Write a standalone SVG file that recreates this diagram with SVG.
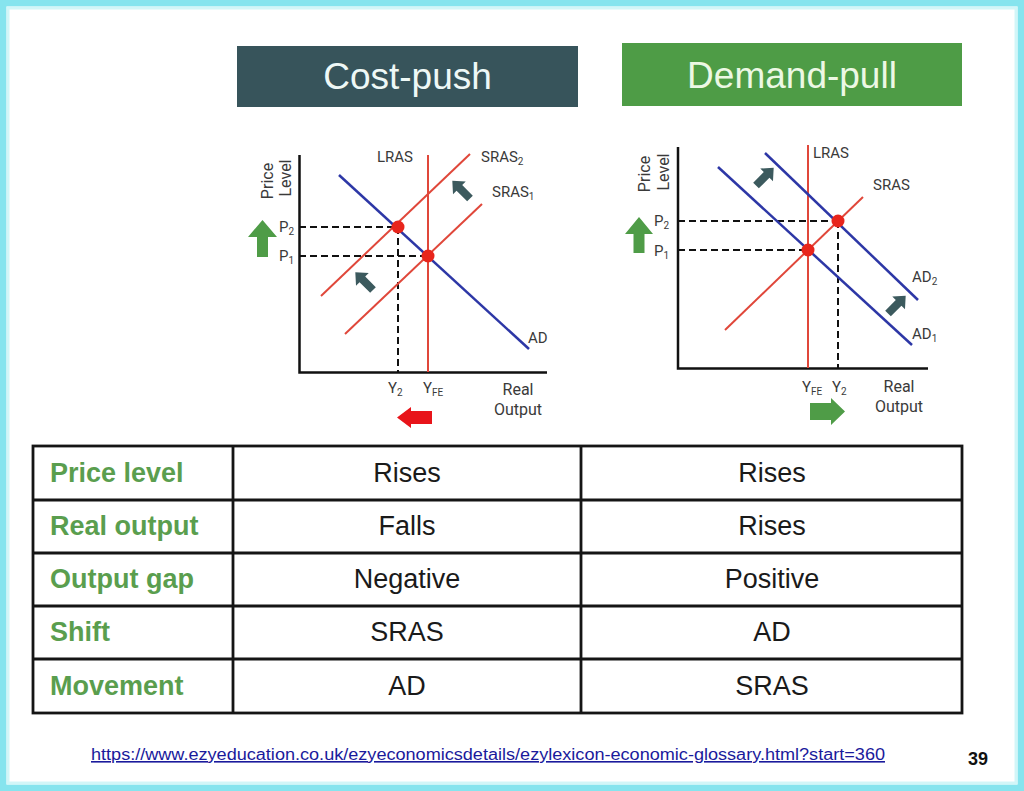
<svg xmlns="http://www.w3.org/2000/svg" width="1024" height="791" viewBox="0 0 1024 791">
<defs>
<style>
.lbl{font-family:Roboto,"Liberation Sans",sans-serif;font-size:15px;fill:#3a3a3a}
.sub{font-size:10px}
.ax{stroke:#111;stroke-width:2.5;fill:none}
.dash{stroke:#111;stroke-width:2;stroke-dasharray:7 4;fill:none}
.red{stroke:#e0473a;stroke-width:2;fill:none}
.blue{stroke:#2d37a6;stroke-width:2.5;fill:none}
.pt{fill:#e8251c}
.dk{fill:#3c5a5e}
.hdr{font-family:"Liberation Sans",Arial,sans-serif;font-size:37px;text-anchor:middle}
.rowh{font-family:"Liberation Sans",Arial,sans-serif;font-size:27px;font-weight:bold;fill:#5a9e4e}
.cell{font-family:"Liberation Sans",Arial,sans-serif;font-size:27px;fill:#1a1a1a;text-anchor:middle}
.grid{stroke:#151515;stroke-width:2.8;fill:none}
</style>
<path id="sarrow" d="M0,-13 L9,-3 L4,-3 L4,12 L-4,12 L-4,-3 L-9,-3 Z"/>
</defs>
<rect x="0" y="0" width="1024" height="791" fill="#ffffff"/>
<rect x="3" y="3" width="1018" height="785" fill="none" stroke="#86e4ee" stroke-width="7"/>
<rect x="8" y="8" width="1008" height="775" fill="none" stroke="#d2f6f8" stroke-width="3"/>

<g id="header-costpush">
<rect x="237" y="46" width="341" height="61" fill="#37545b"/>
<text class="hdr" x="407.5" y="89" fill="#eef8f6">Cost-push</text>
</g>
<g id="header-demandpull">
<rect x="622" y="43" width="340" height="63" fill="#4e9c46"/>
<text class="hdr" x="792" y="88" fill="#ecf8e4">Demand-pull</text>
</g>

<g id="chart-costpush">
<path class="ax" d="M299.5,155 V372.5 H547"/>
<path class="dash" d="M299,227 H398 M299,256 H428 M398,227 V372"/>
<line class="red" x1="428" y1="155" x2="428" y2="372"/>
<line class="red" x1="321" y1="296" x2="470" y2="154"/>
<line class="red" x1="345" y1="334" x2="482" y2="204"/>
<line class="blue" x1="339" y1="175" x2="529" y2="349"/>
<circle class="pt" cx="398" cy="227" r="6.5"/>
<circle class="pt" cx="428" cy="256" r="6.5"/>
<use href="#sarrow" class="dk" transform="translate(461.5,190) rotate(-45)"/>
<use href="#sarrow" class="dk" transform="translate(364.5,281.5) rotate(-45)"/>
<path d="M248,237 L262.5,220 L277,237 L268,237 L268,257 L257,257 L257,237 Z" fill="#4f9c47"/>
<path d="M397,417.5 L411,407 L411,411 L432,411 L432,424 L411,424 L411,428 Z" fill="#e8141a"/>
<text class="lbl" transform="translate(273,181) rotate(-90)" text-anchor="middle" style="font-size:16px">Price</text>
<text class="lbl" transform="translate(291,178) rotate(-90)" text-anchor="middle" style="font-size:16px">Level</text>
<text class="lbl" x="279" y="232">P<tspan class="sub" dy="3">2</tspan></text>
<text class="lbl" x="279" y="261">P<tspan class="sub" dy="3">1</tspan></text>
<text class="lbl" x="377" y="162">LRAS</text>
<text class="lbl" x="481" y="162">SRAS<tspan class="sub" dy="3">2</tspan></text>
<text class="lbl" x="492" y="197">SRAS<tspan class="sub" dy="3">1</tspan></text>
<text class="lbl" x="528" y="343">AD</text>
<text class="lbl" x="388" y="393">Y<tspan class="sub" dy="3">2</tspan></text>
<text class="lbl" x="423" y="393">Y<tspan class="sub" dy="3">FE</tspan></text>
<text class="lbl" x="518" y="395" text-anchor="middle" style="font-size:16px">Real</text>
<text class="lbl" x="518" y="415" text-anchor="middle" style="font-size:16px">Output</text>
</g>

<g id="chart-demandpull">
<path class="ax" d="M678,147 V368.5 H928"/>
<path class="dash" d="M678,221 H838 M678,250 H808 M838,221 V368"/>
<line class="red" x1="808" y1="145" x2="808" y2="368"/>
<line class="red" x1="725" y1="330" x2="863" y2="197"/>
<line class="blue" x1="718" y1="167" x2="912" y2="345"/>
<line class="blue" x1="765" y1="153" x2="918" y2="300"/>
<circle class="pt" cx="808" cy="250" r="6.5"/>
<circle class="pt" cx="838" cy="221" r="6.5"/>
<use href="#sarrow" class="dk" transform="translate(764.5,177) rotate(45)"/>
<use href="#sarrow" class="dk" transform="translate(896.5,305) rotate(45)"/>
<path d="M625,234 L639,217 L653,234 L644.5,234 L644.5,253 L633.5,253 L633.5,234 Z" fill="#4f9c47"/>
<path d="M845,411.5 L831,398 L831,403 L810,403 L810,420 L831,420 L831,425 Z" fill="#4f9c47"/>
<text class="lbl" transform="translate(650,174) rotate(-90)" text-anchor="middle" style="font-size:16px">Price</text>
<text class="lbl" transform="translate(669,172) rotate(-90)" text-anchor="middle" style="font-size:16px">Level</text>
<text class="lbl" x="654" y="226">P<tspan class="sub" dy="3">2</tspan></text>
<text class="lbl" x="654" y="256">P<tspan class="sub" dy="3">1</tspan></text>
<text class="lbl" x="813" y="158">LRAS</text>
<text class="lbl" x="873" y="190">SRAS</text>
<text class="lbl" x="912" y="282">AD<tspan class="sub" dy="3">2</tspan></text>
<text class="lbl" x="912" y="339">AD<tspan class="sub" dy="3">1</tspan></text>
<text class="lbl" x="802" y="392">Y<tspan class="sub" dy="3">FE</tspan></text>
<text class="lbl" x="832" y="392">Y<tspan class="sub" dy="3">2</tspan></text>
<text class="lbl" x="899" y="392" text-anchor="middle" style="font-size:16px">Real</text>
<text class="lbl" x="899" y="412" text-anchor="middle" style="font-size:16px">Output</text>
</g>

<g id="table">
<rect class="grid" x="33" y="446" width="929" height="267"/>
<path class="grid" d="M33,500 H962 M33,553 H962 M33,606 H962 M33,659 H962 M233,446 V713 M581,446 V713"/>
<text class="rowh" x="50" y="482">Price level</text>
<text class="rowh" x="50" y="535">Real output</text>
<text class="rowh" x="50" y="588">Output gap</text>
<text class="rowh" x="50" y="641">Shift</text>
<text class="rowh" x="50" y="695">Movement</text>
<text class="cell" x="407" y="482">Rises</text>
<text class="cell" x="407" y="535">Falls</text>
<text class="cell" x="407" y="588">Negative</text>
<text class="cell" x="407" y="641">SRAS</text>
<text class="cell" x="407" y="695">AD</text>
<text class="cell" x="772" y="482">Rises</text>
<text class="cell" x="772" y="535">Rises</text>
<text class="cell" x="772" y="588">Positive</text>
<text class="cell" x="772" y="641">AD</text>
<text class="cell" x="772" y="695">SRAS</text>
</g>

<g id="footer">
<text x="91" y="760" font-family="Liberation Sans, Arial, sans-serif" font-size="16" fill="#1a1a9c" text-decoration="underline" textLength="794" lengthAdjust="spacingAndGlyphs">https://www.ezyeducation.co.uk/ezyeconomicsdetails/ezylexicon-economic-glossary.html?start=360</text>
<text x="978" y="765" font-family="Liberation Sans, Arial, sans-serif" font-size="18" font-weight="bold" fill="#111" text-anchor="middle">39</text>
</g>
</svg>
